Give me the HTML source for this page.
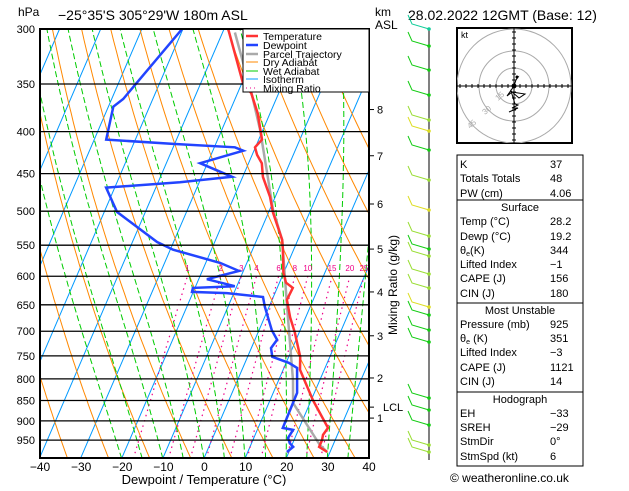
<!DOCTYPE html>
<html><head><meta charset="utf-8">
<style>
html,body{margin:0;padding:0;background:#fff;}
body{width:629px;height:486px;overflow:hidden;font-family:"Liberation Sans",sans-serif;}
svg text{font-family:"Liberation Sans","DejaVu Sans",sans-serif;}
</style></head>
<body>
<svg id="chart" width="629" height="486" viewBox="0 0 629 486" xmlns="http://www.w3.org/2000/svg">
<defs><clipPath id="plotclip"><rect x="40" y="29" width="329" height="429"/></clipPath>
<clipPath id="hodoclip"><rect x="457" y="28" width="115" height="115"/></clipPath></defs>
<text x="18" y="16" font-size="12">hPa</text>
<text x="58" y="20" font-size="14">−25°35'S 305°29'W 180m ASL</text>
<text x="375" y="16" font-size="12">km</text>
<text x="375" y="29" font-size="12">ASL</text>
<text x="408" y="20" font-size="14">28.02.2022 12GMT (Base: 12)</text>
<g id="bg" clip-path="url(#plotclip)"></g>
<g id="series" clip-path="url(#plotclip)"></g>
<g id="axes"></g>
<rect x="40" y="29" width="329" height="429" fill="none" stroke="#000" stroke-width="2"/>
<g>
<rect x="243" y="29" width="126" height="63" fill="#fff" stroke="#000" stroke-width="1"/>
<line x1="246" y1="36" x2="258" y2="36" stroke="#f33" stroke-width="2.5"/><text x="263" y="40" font-size="10.5">Temperature</text>
<line x1="246" y1="45" x2="258" y2="45" stroke="#24f" stroke-width="2.5"/><text x="263" y="49" font-size="10.5">Dewpoint</text>
<line x1="246" y1="54" x2="258" y2="54" stroke="#aaa" stroke-width="2.5"/><text x="263" y="58" font-size="10.5">Parcel Trajectory</text>
<line x1="246" y1="62" x2="258" y2="62" stroke="#f80" stroke-width="1"/><text x="263" y="66" font-size="10.5">Dry Adiabat</text>
<line x1="246" y1="71" x2="258" y2="71" stroke="#0c0" stroke-width="1"/><text x="263" y="75" font-size="10.5">Wet Adiabat</text>
<line x1="246" y1="79" x2="258" y2="79" stroke="#09f" stroke-width="1"/><text x="263" y="83" font-size="10.5">Isotherm</text>
<line x1="246" y1="88" x2="258" y2="88" stroke="#e08" stroke-width="1" stroke-dasharray="1,3"/><text x="263" y="92" font-size="10.5">Mixing Ratio</text>
</g>
<text x="204" y="484" font-size="13" text-anchor="middle">Dewpoint / Temperature (°C)</text>
<text transform="translate(397,335) rotate(-90)" font-size="12">Mixing Ratio (g/kg)</text>
<g id="km"></g>
<g id="wind"></g>
<g>
<rect x="457" y="28" width="115" height="115" fill="#fff" stroke="#000" stroke-width="2"/>
<g clip-path="url(#hodoclip)" fill="none" stroke="#aaa" stroke-width="1">
<circle cx="514" cy="86" r="18"/><circle cx="514" cy="86" r="35"/><circle cx="514" cy="86" r="57"/>
</g>
<line x1="457" y1="86" x2="572" y2="86" stroke="#000"/><line x1="514" y1="28" x2="514" y2="143" stroke="#000"/>
<g id="hodoticks" stroke="#000"></g>
<text x="461" y="38" font-size="9">kt</text>
<text x="470" y="129" font-size="8" fill="#aaa" transform="rotate(-40,470,129)">45</text>
<text x="485" y="115" font-size="8" fill="#aaa" transform="rotate(-40,485,115)">30</text>
<text x="498" y="101" font-size="8" fill="#aaa" transform="rotate(-40,498,101)">15</text>
<polyline points="516,78 518,77 516,80 514,86 507,96 512,92 525,94 519,98 511,91 515,104 518,105 512,108 518,108 509,112" fill="none" stroke="#000" stroke-width="1"/>
<circle cx="514" cy="86" r="2.5" fill="#000"/><circle cx="517" cy="77" r="1.5" fill="#000"/>
</g>
<g font-size="11">
<rect x="457" y="155" width="126" height="45" fill="none" stroke="#000"/>
<rect x="457" y="200" width="126" height="103" fill="none" stroke="#000"/>
<rect x="457" y="303" width="126" height="89" fill="none" stroke="#000"/>
<rect x="457" y="392" width="126" height="74" fill="none" stroke="#000"/>
<text x="460" y="168">K</text><text x="550" y="168">37</text>
<text x="460" y="182">Totals Totals</text><text x="550" y="182">48</text>
<text x="460" y="197">PW (cm)</text><text x="550" y="197">4.06</text>
<text x="520" y="211" text-anchor="middle">Surface</text>
<text x="460" y="225">Temp (°C)</text><text x="550" y="225">28.2</text>
<text x="460" y="240">Dewp (°C)</text><text x="550" y="240">19.2</text>
<text x="460" y="254">θ<tspan font-size="7" dy="2">e</tspan><tspan dy="-2">(K)</tspan></text><text x="550" y="254">344</text>
<text x="460" y="268">Lifted Index</text><text x="550" y="268">−1</text>
<text x="460" y="282">CAPE (J)</text><text x="550" y="282">156</text>
<text x="460" y="297">CIN (J)</text><text x="550" y="297">180</text>
<text x="520" y="314" text-anchor="middle">Most Unstable</text>
<text x="460" y="328">Pressure (mb)</text><text x="550" y="328">925</text>
<text x="460" y="342">θ<tspan font-size="7" dy="2">e</tspan><tspan dy="-2"> (K)</tspan></text><text x="550" y="342">351</text>
<text x="460" y="356">Lifted Index</text><text x="550" y="356">−3</text>
<text x="460" y="371">CAPE (J)</text><text x="550" y="371">1121</text>
<text x="460" y="385">CIN (J)</text><text x="550" y="385">14</text>
<text x="520" y="403" text-anchor="middle">Hodograph</text>
<text x="460" y="417">EH</text><text x="550" y="417">−33</text>
<text x="460" y="431">SREH</text><text x="550" y="431">−29</text>
<text x="460" y="445">StmDir</text><text x="550" y="445">0°</text>
<text x="460" y="460">StmSpd (kt)</text><text x="550" y="460">6</text>
</g>
<text x="450" y="482" font-size="12">© weatheronline.co.uk</text>
</svg>
<script>
// ---- data ----
const tempP = [300,350,359,380,409,418,427,437,454,480,502,542,557,594,611,620,641,673,703,752,780,849,918,936,950,968,982];
const tempT = [-39.0,-29.6,-26.7,-23.0,-19.2,-20.1,-18.8,-16.8,-15.1,-11.3,-8.9,-3.8,-2.6,-0.1,1.6,3.8,3.6,6.2,9.0,12.8,14.1,20.4,27.0,26.5,26.8,26.8,29.3];
const dewP = [300,365,373,409,414,418,422,437,454,461,468,501,515,545,557,578,591,605,617,620,627,629,636,654,698,717,734,752,765,776,832,873,918,923,944,958,968,982];
const dewT = [-50.2,-57.2,-58.8,-57.1,-40.4,-25.0,-22.6,-31.8,-22.6,-34.7,-52.1,-46.9,-42.7,-34.0,-29.3,-16.5,-11.1,-18.0,-10.5,-20.5,-20.3,-11.7,-2.5,-1.0,3.1,5.4,4.8,6.0,10.7,13.2,15.8,15.9,16.0,18.7,18.3,19.3,20.5,19.5];
const parcelP = [303,361,398,449,498,542,654,803,856,963,982];
const parcelT = [-37.0,-26.3,-20.7,-14.5,-9.2,-3.8,4.4,13.5,15.9,26.8,29.3];
const pressureTicks = [300,350,400,450,500,550,600,650,700,750,800,850,900,950];
const tempTicks = [-40,-30,-20,-10,0,10,20,30,40];
const kmLabels = ["8","7","6","5","4","3","2","LCL","1"];
const kmPressures = [376,428,490,556,627,709,798,866,893];
const mixRatios = [1,2,3,4,6,8,10,15,20,25];

// ---- axis functions ----
const Y0=29, PK=356.7, XL=40, XS=4.1125, SK=0.43, YB=457;
function yP(p){return Y0+PK*Math.log(p/300);}
function xT(T,p){return XL+(T+40)*XS+SK*(YB-yP(p));}
const NS="http://www.w3.org/2000/svg";
function mk(tag,attrs,parent){const e=document.createElementNS(NS,tag);for(const k in attrs)e.setAttribute(k,attrs[k]);parent.appendChild(e);return e;}
const bg=document.getElementById('bg'), ser=document.getElementById('series'), ax=document.getElementById('axes');
function polyStr(ps,ts){return ps.map((p,i)=>xT(ts[i],p).toFixed(1)+','+yP(p).toFixed(1)).join(' ');}
const levels=[];for(let p=300;p<=1000;p+=10)levels.push(p);

// isotherms
for(let T=-120;T<=40;T+=10){
  const l=mk('line',{x1:xT(T,1000),y1:yP(1000),x2:xT(T,300),y2:yP(300),stroke:'#09f','stroke-width':1},bg);
  
  
}
// dry adiabats
for(let th=230;th<=480;th+=10){
  const ts=levels.map(p=>th*Math.pow(p/1000,0.2857)-273.15);
  const l=mk('polyline',{points:polyStr(levels,ts),fill:'none',stroke:'#f80','stroke-width':1},bg);
  
  
}
// wet adiabats
function es(T){return 6.112*Math.exp(17.67*T/(T+243.5));}
function moistLapse(T,p){const Tk=T+273.15,e=es(T),r=0.622*e/(p-e),Lv=2.5e6,Rd=287,cp=1004,eps=0.622;
  const num=(Rd*Tk+Lv*r)/p, den=cp+(Lv*Lv*r*eps)/(Rd*Tk*Tk);return num/den;}
for(let T0=-20;T0<=45;T0+=5){
  let T=T0,ps=[1000],ts=[T0];
  for(let p=1000;p>300;p-=5){T-=moistLapse(T,p)*5;ps.push(p-5);ts.push(T);}
  const l=mk('polyline',{points:polyStr(ps,ts),fill:'none',stroke:'#0c0','stroke-width':1,'stroke-dasharray':'6,3'},bg);
  
  
}
// mixing ratio
mixRatios.forEach(w=>{
  const ps=[],ts=[];
  for(let p=1000;p>=600;p-=20){const e=w*p/(622+w),a=Math.log(e/6.112);ps.push(p);ts.push(243.5*a/(17.67-a));}
  const l=mk('polyline',{points:polyStr(ps,ts),fill:'none',stroke:'#e08','stroke-width':1.2,'stroke-dasharray':'1.5,4'},bg);
  
  
  const t=mk('text',{x:xT(ts[ts.length-1],600),y:yP(600)-5,'font-size':8,fill:'#e08','text-anchor':'middle'},bg);
  t.textContent=w;
  
  
});
// pressure lines & labels
pressureTicks.forEach(p=>{
  const l=mk('line',{x1:40,x2:369,y1:yP(p),y2:yP(p),stroke:'#000','stroke-width':1.3},ax);
  
  
  const t=mk('text',{x:35,y:yP(p)+4,'font-size':11,'text-anchor':'end'},ax);
  t.textContent=p;
  
  
});
tempTicks.forEach(T=>{
  const x=XL+(T+40)*XS;
  const t=mk('text',{x:x,y:471,'font-size':12,'text-anchor':'middle'},ax);
  t.textContent=T<0?('−'+(-T)):T;
  
  
});
// series
const sp=mk('polyline',{points:polyStr(parcelP,parcelT),fill:'none',stroke:'#aaa','stroke-width':2.5},ser);


const st=mk('polyline',{points:polyStr(tempP,tempT),fill:'none',stroke:'#f33','stroke-width':2.5},ser);


const sd=mk('polyline',{points:polyStr(dewP,dewT),fill:'none',stroke:'#24f','stroke-width':2.5},ser);


// km axis
const km=document.getElementById('km');
kmLabels.forEach((s,i)=>{
  const y=yP(kmPressures[i]);
  mk('line',{x1:369,x2:374,y1:y,y2:y,stroke:'#000'},km);
  const t=mk('text',{x:s==='LCL'?383:377,y:y+4,'font-size':11},km);
  t.textContent=s;
  
  
});
// wind barbs (decorative)
const wind=document.getElementById('wind');
mk('line',{x1:429,x2:429,y1:29,y2:460,stroke:'#000','stroke-width':1},wind);
const barbY=[29,46,70,95,120,131,150,180,210,236,249,256,274,288,307,315,330,342,398,410,425,445,452];
const barbC=['#1c9','#1c1','#1c1','#1c1','#9d3','#dd2','#1c1','#9d3','#dd2','#9d3','#1c1','#9d3','#9d3','#9d3','#dd2','#1c1','#1c1','#1c1','#1c1','#1c1','#1c1','#9d3','#9d3'];
barbY.forEach((y,i)=>{
  const c=barbC[i];
  mk('polyline',{points:`429,${y} ${412},${y-5} ${408},${y-14}`,fill:'none',stroke:c,'stroke-width':1},wind);
  mk('circle',{cx:429,cy:y,r:1.8,fill:c},wind);
});
// hodograph ticks
const ht=document.getElementById('hodoticks');
for(let d=-54;d<=54;d+=6){ if(d===0)continue;
  mk('line',{x1:514+d,x2:514+d,y1:84,y2:88},ht);
  mk('line',{x1:512,x2:516,y1:86+d,y2:86+d},ht);
}
</script>
</body></html>
